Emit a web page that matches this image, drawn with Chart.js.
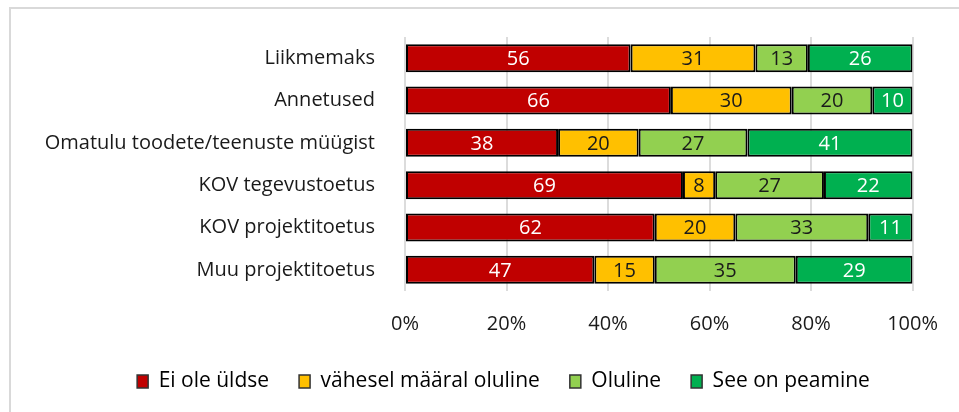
<!DOCTYPE html>
<html>
<head>
<meta charset="utf-8">
<script src="https://cdn.jsdelivr.net/npm/chart.js@4"></script>
<style>
  html, body { margin: 0; padding: 0; background: #fff; }
  #wrap { position: relative; width: 959px; height: 412px; }
  #frame { position: absolute; left: 9px; top: 7px; right: 0; bottom: 0;
           border-top: 2px solid #d9d9d9; border-left: 2px solid #d9d9d9; }
  canvas { position: absolute; left: 0; top: 0; }
</style>
</head>
<body>
<div id="wrap">
  <div id="frame"></div>
  <canvas id="chart" width="959" height="412"></canvas>
</div>
<script>
const categories = [
  "Liikmemaks",
  "Annetused",
  "Omatulu toodete/teenuste müügist",
  "KOV tegevustoetus",
  "KOV projektitoetus",
  "Muu projektitoetus"
];
const seriesNames = ["Ei ole üldse", "vähesel määral oluline", "Oluline", "See on peamine"];
const eiOle     = [56, 66, 38, 69, 62, 47];
const vahesel   = [31, 30, 20, 8, 20, 15];
const oluline   = [13, 20, 27, 27, 33, 35];
const peamine   = [26, 10, 41, 22, 11, 29];
const tickLabels = ["0%", "20%", "40%", "60%", "80%", "100%"];

const colors = ["#c00000", "#ffc000", "#92d050", "#00b050"];
const labelColors = ["#ffffff", "#1a1a1a", "#1a1a1a", "#ffffff"];
const FONT = "'Open Sans', sans-serif";

const counts = [eiOle, vahesel, oluline, peamine];
const totals = categories.map((_, i) => counts.reduce((s, arr) => s + arr[i], 0));

const datasets = counts.map((arr, k) => ({
  label: seriesNames[k],
  data: arr.map((v, i) => v / totals[i] * 100),
  raw: arr,
  backgroundColor: colors[k],
  borderColor: "#000",
  borderWidth: 2,
  borderSkipped: false,
  barPercentage: 0.66,
  categoryPercentage: 1.0
}));

// value labels in the middle of each segment
const barLabels = {
  id: "barLabels",
  afterDatasetsDraw(chart) {
    const ctx = chart.ctx;
    ctx.save();
    ctx.font = "20px " + FONT;
    ctx.textAlign = "center";
    ctx.textBaseline = "middle";
    chart.data.datasets.forEach((ds, k) => {
      chart.getDatasetMeta(k).data.forEach((bar, i) => {
        const p = bar.getProps(["x", "y", "base"], true);
        ctx.fillStyle = labelColors[k];
        ctx.fillText(String(ds.raw[i]), (p.x + p.base) / 2, p.y + 1);
      });
    });
    ctx.restore();
  }
};

// the legend sits centred under the whole figure, a bit right of the canvas middle
const legendShift = {
  id: "legendShift",
  afterLayout(chart) {
    const lg = chart.legend;
    if (lg) { lg.left += 46; lg.right += 46; }
  }
};

new Chart(document.getElementById("chart"), {
  type: "bar",
  data: { labels: categories, datasets: datasets },
  plugins: [barLabels, legendShift],
  options: {
    indexAxis: "y",
    responsive: false,
    animation: false,
    layout: { padding: { top: 37, right: 44, left: 0, bottom: 10 } },
    scales: {
      x: {
        stacked: true,
        min: 0,
        max: 100,
        border: { display: false },
        grid: { color: "#dcdcdc", lineWidth: 2, drawTicks: false },
        ticks: {
          stepSize: 20,
          padding: 21,
          color: "#1a1a1a",
          font: { family: FONT, size: 20 },
          callback: (v) => tickLabels[v / 20]
        },
        afterFit: (s) => { s.height = 50; }
      },
      y: {
        stacked: true,
        border: { display: false },
        grid: { display: false, drawTicks: false },
        ticks: {
          padding: 30,
          color: "#1a1a1a",
          font: { family: FONT, size: 20 }
        },
        afterFit: (s) => { s.width = 405; s.paddingTop = 0; s.paddingBottom = 0; }
      }
    },
    plugins: {
      tooltip: { enabled: false },
      legend: {
        position: "bottom",
        labels: {
          color: "#1a1a1a",
          font: { family: FONT, size: 21 },
          boxWidth: 11,
          boxHeight: 13,
          padding: 30,
          generateLabels: (chart) => chart.data.datasets.map((ds, k) => ({
            text: ds.label,
            fillStyle: colors[k],
            strokeStyle: "#333",
            lineWidth: 1.5,
            datasetIndex: k
          }))
        }
      }
    }
  }
});
</script>
</body>
</html>
